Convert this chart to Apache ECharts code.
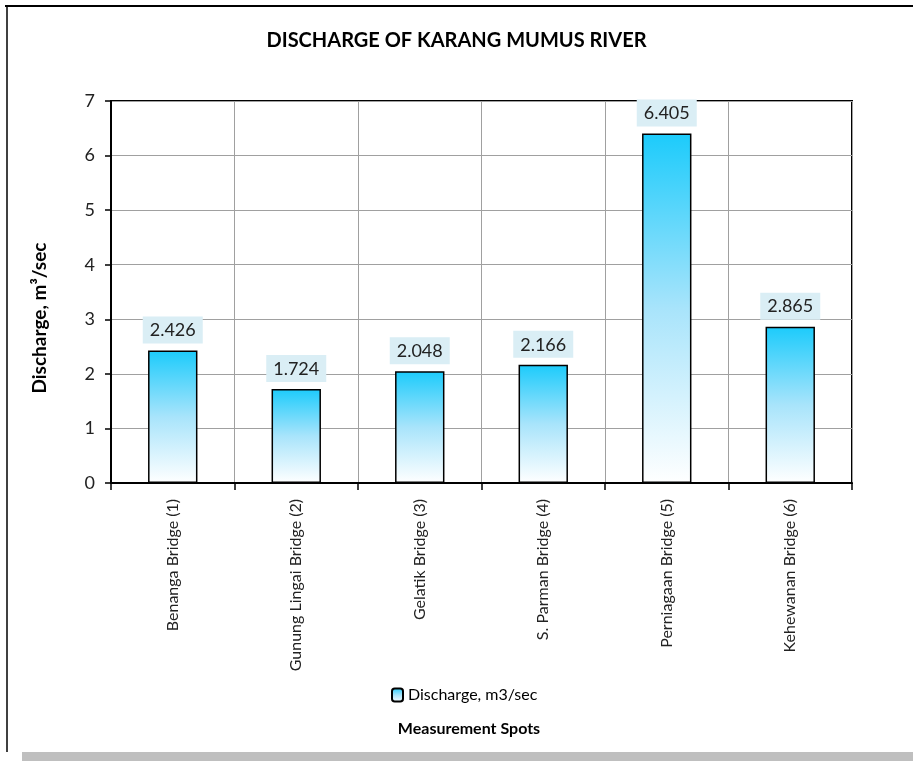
<!DOCTYPE html>
<html>
<head>
<meta charset="utf-8">
<title>Discharge of Karang Mumus River</title>
<script src="https://cdn.jsdelivr.net/npm/echarts@6/dist/echarts.min.js"></script>
<style>
  html, body { margin: 0; padding: 0; background: #fff; }
  #chart { width: 913px; height: 761px; }
</style>
</head>
<body>
<div id="chart"></div>
<script>
var spots = ['Benanga Bridge (1)', 'Gunung Lingai Bridge (2)', 'Gelatik Bridge (3)',
             'S. Parman Bridge (4)', 'Perniagaan Bridge (5)', 'Kehewanan Bridge (6)'];
var discharge = [2.426, 1.724, 2.048, 2.166, 6.405, 2.865];
var yTicks = { min: 0, max: 7, interval: 1 };

var font = 'Lato, "Open Sans", sans-serif';
var barFill = new echarts.graphic.LinearGradient(0, 0, 0, 1, [
  { offset: 0, color: '#1ccbfb' },
  { offset: 0.5, color: '#a8e4fb' },
  { offset: 1, color: '#ffffff' }
]);

var chart = echarts.init(document.getElementById('chart'));
chart.setOption({
  animation: false,
  textStyle: { fontFamily: font },
  title: {
    text: 'DISCHARGE OF KARANG MUMUS RIVER',
    left: 'center', top: 26,
    textStyle: { fontFamily: font, fontSize: 20, fontWeight: 'bold', color: '#000' }
  },
  legend: {
    data: ['Discharge, m3/sec'],
    left: 386, top: 682,
    itemWidth: 11, itemHeight: 13, itemGap: 3,
    textStyle: { fontFamily: font, fontSize: 16, color: '#000' }
  },
  grid: {
    left: 111, right: 61, top: 101, bottom: 278,
    show: true, borderColor: '#000', borderWidth: 2, backgroundColor: 'transparent'
  },
  xAxis: {
    type: 'category',
    data: spots,
    name: 'Measurement Spots',
    nameLocation: 'middle',
    nameGap: 238,
    nameTextStyle: { fontFamily: font, fontSize: 16, fontWeight: 'bold', color: '#000', padding: [0, 25, 0, 0] },
    axisLine: { lineStyle: { color: '#000', width: 2 } },
    axisTick: { show: true, length: 7, lineStyle: { color: '#000', width: 1.5 } },
    splitLine: { show: true, lineStyle: { color: '#a0a0a0', width: 1 } },
    axisLabel: { rotate: 90, margin: 16, fontSize: 16, color: '#222', interval: 0 }
  },
  yAxis: {
    type: 'value',
    min: yTicks.min, max: yTicks.max, interval: yTicks.interval,
    name: 'Discharge, m³/sec',
    nameLocation: 'middle',
    nameGap: 62,
    nameTextStyle: { fontFamily: font, fontSize: 19, fontWeight: 'bold', color: '#000', padding: [0, 52, 0, 0] },
    axisLine: { show: true, lineStyle: { color: '#000', width: 2 } },
    axisTick: { show: true, length: 6, lineStyle: { color: '#000', width: 1.5 } },
    splitLine: { show: true, lineStyle: { color: '#a0a0a0', width: 1 } },
    axisLabel: { margin: 16, fontSize: 18, color: '#222' }
  },
  series: [{
    name: 'Discharge, m3/sec',
    type: 'bar',
    data: discharge,
    barWidth: '40%',
    itemStyle: { color: barFill, borderColor: '#000', borderWidth: 1.5 },
    label: {
      show: true, position: 'top', distance: 7,
      formatter: function (p) { return p.value.toFixed(3); },
      fontFamily: font, fontSize: 18, color: '#222',
      backgroundColor: '#daeef5', padding: [5, 7, 4, 7]
    }
  }],
  graphic: [
    { type: 'line', shape: { x1: 5, y1: 6, x2: 913, y2: 6 }, style: { stroke: '#000', lineWidth: 2 } },
    { type: 'line', shape: { x1: 7, y1: 5, x2: 7, y2: 752 }, style: { stroke: '#000', lineWidth: 1.5 } },
    { type: 'rect', shape: { x: 22, y: 752, width: 891, height: 9 }, style: { fill: '#bfbfbf' } }
  ]
});
</script>
</body>
</html>
